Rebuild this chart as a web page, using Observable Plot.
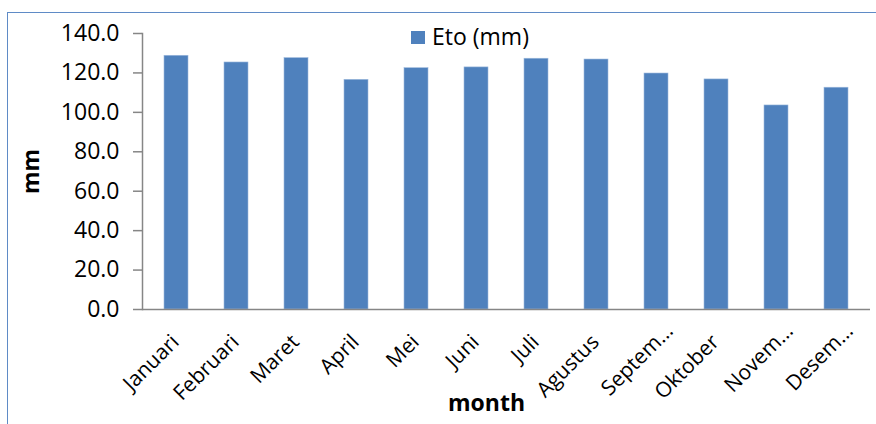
<!DOCTYPE html>
<html>
<head>
<meta charset="utf-8">
<script src="https://cdn.jsdelivr.net/npm/d3@7"></script>
<script src="https://cdn.jsdelivr.net/npm/@observablehq/plot@0.6"></script>
<style>
  html, body { margin: 0; padding: 0; background: #fff; overflow: hidden; }
  #wrap { position: relative; width: 876px; height: 424px; overflow: hidden; font-family: "Open Sans", sans-serif; }
  #border { position: absolute; left: 7px; top: 12px; width: 900px; height: 500px; border: 1.5px solid #5f8bc6; box-sizing: border-box; }
  #chart { position: absolute; left: 0; top: 0; }
  #legend { position: absolute; left: 411px; top: 20px; display: flex; align-items: center; font-size: 23px; color: #000; }
  #legend .sw { width: 14px; height: 13px; background: #4f81bd; margin-right: 7px; margin-top: 2px; }
  [aria-label="y-axis label"] text { font-weight: bold; }
</style>
</head>
<body>
<div id="wrap">
  <div id="border"></div>
  <div id="chart"></div>
  <div id="legend"><div class="sw"></div><span>Eto (mm)</span></div>
</div>
<script>
const months = ["Januari","Februari","Maret","April","Mei","Juni","Juli","Agustus","September","Oktober","November","Desember"];
const tickLabels = ["Januari","Februari","Maret","April","Mei","Juni","Juli","Agustus","Septem…","Oktober","Novem…","Desem…"];
const eto = [128.7, 125.3, 127.5, 116.5, 122.4, 122.8, 127.2, 126.8, 119.7, 116.7, 103.5, 112.5];
const yTicks = [0, 20, 40, 60, 80, 100, 120, 140];
const seriesName = "Eto (mm)";

const data = months.map((m, i) => ({month: m, value: eto[i]}));
const labelOf = new Map(months.map((m, i) => [m, tickLabels[i]]));
const fullTicks = months.filter((m, i) => !tickLabels[i].endsWith("…"));
const cutTicks = months.filter((m, i) => tickLabels[i].endsWith("…"));

const chart = Plot.plot({
  width: 876,
  height: 424,
  marginLeft: 142,
  marginRight: 6,
  marginTop: 33,
  marginBottom: 115,
  style: {fontFamily: "'Open Sans', sans-serif", fontSize: "23px", color: "#000", background: "transparent", overflow: "visible"},
  x: {domain: months, paddingInner: 0.6, paddingOuter: 0.3},
  y: {domain: [0, 140]},
  marks: [
    Plot.barY(data, {x: "month", y: "value", fill: "#4f81bd", stroke: "#9db9dd", strokeWidth: 0.6}),
    Plot.frame({anchor: "left", stroke: "#868686", strokeWidth: 1.5}),
    Plot.ruleY([0], {stroke: "#868686", strokeWidth: 1.5}),
    Plot.axisY({ticks: yTicks, tickFormat: d3.format(".1f"), tickSize: 9, tickPadding: 14, stroke: "#868686", strokeWidth: 1.5, fill: "#000",
      label: "mm", labelAnchor: "center", labelArrow: "none", labelOffset: 120}),
    Plot.axisX({ticks: fullTicks, tickRotate: -45, textAnchor: "end", lineAnchor: "middle", tickSize: 0, tickPadding: 29, dx: -1, fontSize: 21, tickFormat: d => labelOf.get(d), fill: "#000", label: null}),
    Plot.axisX({ticks: cutTicks, tickRotate: -45, textAnchor: "end", lineAnchor: "middle", tickSize: 0, tickPadding: 18, dx: 13, fontSize: 21, tickFormat: d => labelOf.get(d), fill: "#000", label: null}),
    Plot.text(["month"], {frameAnchor: "bottom", dx: -20, dy: 101, text: d => d, fontWeight: "bold", fontSize: 23, fill: "#000"})
  ]
});
document.getElementById("chart").appendChild(chart);
document.querySelector("#legend span").textContent = seriesName;
</script>
</body>
</html>
